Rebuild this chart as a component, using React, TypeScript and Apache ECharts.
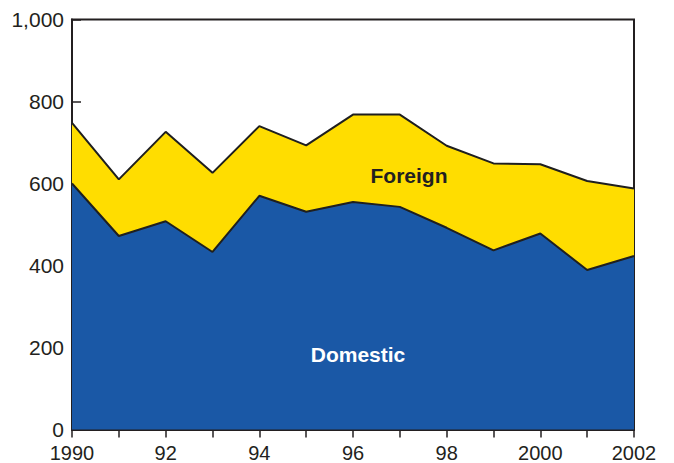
import React, { useEffect, useRef } from "react";
import * as echarts from "echarts";

const years = ["1990","1991","1992","1993","1994","1995","1996","1997","1998","1999","2000","2001","2002"];
const domestic = [600, 472, 508, 433, 570, 531, 555, 543, 492, 437, 478, 389, 423];
const foreign = [148, 138, 218, 193, 170, 162, 213, 225, 200, 212, 169, 217, 165];
const yTicks = [0, 200, 400, 600, 800, 1000];

const FONT = "'Liberation Sans', Arial, Helvetica, sans-serif";
const INK = "#231f20";

export default function App() {
  const ref = useRef<HTMLDivElement>(null);
  useEffect(() => {
    if (!ref.current) return;
    const chart = echarts.init(ref.current, null, { renderer: "svg" });
    chart.setOption({
      animation: false,
      grid: {
        left: 72, right: 40, top: 19.5, bottom: 33.5,
        show: true, borderColor: INK, borderWidth: 2, backgroundColor: "transparent",
      },
      xAxis: {
        type: "category",
        data: years,
        boundaryGap: false,
        axisLine: { lineStyle: { color: INK, width: 2 } },
        axisTick: { show: true, interval: 0, length: 8, lineStyle: { color: INK, width: 1.5 } },
        axisLabel: {
          interval: 1,
          color: INK,
          fontFamily: FONT,
          fontSize: 20,
          margin: 13,
          formatter: (v: string) => (v === "1990" || v === "2000" || v === "2002" ? v : v.slice(2)),
        },
        splitLine: { show: false },
      },
      yAxis: {
        type: "value",
        min: yTicks[0],
        max: yTicks[yTicks.length - 1],
        interval: 200,
        axisLine: { show: true, lineStyle: { color: INK, width: 2 } },
        axisTick: { show: true, inside: true, length: 9, lineStyle: { color: INK, width: 1.5 } },
        axisLabel: {
          color: INK,
          fontFamily: FONT,
          fontSize: 21,
          margin: 8,
          formatter: (v: number) => v.toLocaleString("en-US"),
        },
        splitLine: { show: false },
      },
      series: [
        {
          name: "Domestic",
          type: "line",
          stack: "total",
          data: domestic,
          symbol: "none",
          lineStyle: { color: "#1f1f1f", width: 2 },
          areaStyle: { color: "#1a58a6", opacity: 1 },
          z: 2,
        },
        {
          name: "Foreign",
          type: "line",
          stack: "total",
          data: foreign,
          symbol: "none",
          lineStyle: { color: "#1f1f1f", width: 2 },
          areaStyle: { color: "#ffdd00", opacity: 1 },
          z: 1,
        },
      ],
      graphic: [
        {
          type: "text",
          x: 409, y: 175,
          style: {
            text: "Foreign",
            fill: INK,
            font: `bold 21px ${FONT}`,
            align: "center",
            verticalAlign: "middle",
          },
          z: 10,
        },
        {
          type: "text",
          x: 358, y: 354,
          style: {
            text: "Domestic",
            fill: "#ffffff",
            font: `bold 21px ${FONT}`,
            align: "center",
            verticalAlign: "middle",
          },
          z: 10,
        },
      ],
    });
    return () => chart.dispose();
  }, []);
  return <div ref={ref} style={{ width: 674, height: 463, position: "absolute", left: 0, top: 0 }} />;
}
